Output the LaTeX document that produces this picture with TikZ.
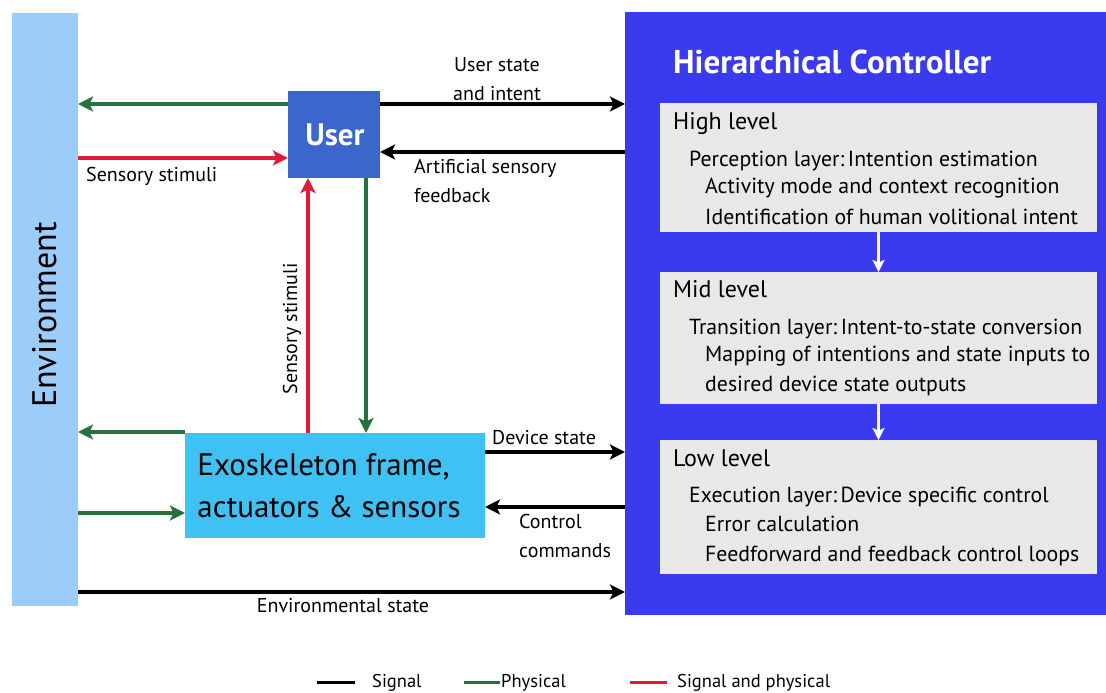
\documentclass[tikz,border=0pt]{standalone}
\usepackage{fontspec}
\setmainfont{PT Sans}
\usetikzlibrary{arrows.meta}
\definecolor{envblue}{RGB}{155,204,250}
\definecolor{userblue}{RGB}{59,102,204}
\definecolor{exocyan}{RGB}{64,193,244}
\definecolor{ctrlblue}{RGB}{58,58,240}
\definecolor{levelgray}{RGB}{232,232,232}
\definecolor{physgreen}{RGB}{40,112,62}
\definecolor{bothred}{RGB}{222,28,58}
\begin{document}
\begin{tikzpicture}[x=1pt,y=1pt,
  block/.style={inner sep=0pt, outer sep=0pt, anchor=center},
  lbl/.style={inner sep=0pt, font=\fontsize{20}{28.5}\selectfont, align=left},
  lvltitle/.style={inner sep=0pt, anchor=base west, font=\fontsize{24}{26}\selectfont},
  lvlline/.style={inner sep=0pt, anchor=base west, font=\fontsize{21.8}{24}\selectfont},
  tip/.style={-{Stealth[length=15pt,width=15pt,inset=3.5pt]}},
  sig/.style={tip, line width=3.4pt, black},
  phys/.style={tip, line width=3.4pt, physgreen},
  both/.style={tip, line width=3.4pt, bothred},
  flow/.style={line width=2.4pt, white, -{Stealth[length=12pt,width=12pt,inset=2.5pt]}},
  key/.style={line width=3pt}
]
\useasboundingbox (0,0) rectangle (1106,693);
\fill[white] (0,0) rectangle (1106,693);

% Environment bar
\node[block, fill=envblue, minimum width=66pt, minimum height=593pt] (env) at (45,383.5) {};
\node[rotate=90, inner sep=0pt, font=\fontsize{34}{36}\selectfont] (envtxt) at (45,378) {Environment};

% User
\node[block, fill=userblue, minimum width=92pt, minimum height=87pt] (user) at (334,558.5) {};
\node[inner sep=0pt, text=white, font=\fontsize{31}{33}\selectfont\bfseries] (usertxt) at (335,558) {User};

% Exoskeleton
\node[block, fill=exocyan, minimum width=300pt, minimum height=105pt] (exo) at (335,207.5) {};
\node[inner sep=0pt, align=left, font=\fontsize{31}{42}\selectfont] (exotxt) at (329,207) {Exoskeleton frame,\\actuators \& sensors};

% Hierarchical controller
\node[block, fill=ctrlblue, minimum width=481pt, minimum height=603pt] (hc) at (865.5,379.5) {};
\node[inner sep=0pt, anchor=base west, text=white, font=\fontsize{33}{36}\selectfont\bfseries] (hctxt) at (673,619) {Hierarchical Controller};

\node[block, fill=levelgray, minimum width=437pt, minimum height=129pt] (high) at (878.5,525.5) {};
\node[block, fill=levelgray, minimum width=437pt, minimum height=132pt] (mid) at (878.5,355) {};
\node[block, fill=levelgray, minimum width=437pt, minimum height=134pt] (low) at (878.5,186) {};

\node[lvltitle] (h0) at (673,563) {High level};
\node[lvlline] (h1) at (689,526) {Perception layer:\,Intention estimation};
\node[lvlline] (h2) at (705,499) {Activity mode and context recognition};
\node[lvlline] (h3) at (705,468) {Identification of human volitional intent};

\node[lvltitle] (m0) at (673,395) {Mid level};
\node[lvlline] (m1) at (689,358) {Transition layer:\,Intent-to-state conversion};
\node[lvlline] (m2) at (705,331) {Mapping of intentions and state inputs to};
\node[lvlline] (m3) at (705,301) {desired device state outputs};

\node[lvltitle] (l0) at (673,226) {Low level};
\node[lvlline] (l1) at (689,190) {Execution layer:\,Device specific control};
\node[lvlline] (l2) at (705,161) {Error calculation};
\node[lvlline] (l3) at (705,131) {Feedforward and feedback control loops};

\draw[flow] (high.south) -- (mid.north);
\draw[flow] (mid.south) -- (low.north);

% Connectors
\draw[phys] (user.west |- 0,589) -- (env.east |- 0,589);
\draw[sig] (user.east |- 0,589) -- (hc.west |- 0,589);
\draw[sig] (hc.west |- 0,541) -- (user.east |- 0,541);
\draw[both] (env.east |- 0,535) -- (user.west |- 0,535);
\draw[both] (exo.north -| 308,0) -- (user.south -| 308,0);
\draw[phys] (user.south -| 366,0) -- (exo.north -| 366,0);
\draw[phys] (exo.west |- 0,261) -- (env.east |- 0,261);
\draw[phys] (env.east |- 0,180) -- (exo.west |- 0,180);
\draw[sig] (exo.east |- 0,241) -- (hc.west |- 0,241);
\draw[sig] (hc.west |- 0,186) -- (exo.east |- 0,186);
\draw[sig] (env.east |- 0,101) -- (hc.west |- 0,101);

% Connector labels
\node[lbl, align=center] (t1) at (497,614) {User state\\and intent};
\node[lbl, anchor=west] (t2) at (414,512) {Artificial sensory\\feedback};
\node[lbl, anchor=west] (t3) at (86,517) {Sensory stimuli};
\node[lbl, rotate=90] (t4) at (292,364) {Sensory stimuli};
\node[lbl, anchor=west] (t5) at (492,255) {Device state};
\node[lbl, anchor=west] (t6) at (519,157) {Control\\commands};
\node[lbl] (t7) at (343,87) {Environmental state};

% Key
\coordinate (k1a) at (317,10); \coordinate (k1b) at (355,10);
\coordinate (k2a) at (464,10); \coordinate (k2b) at (500,10);
\coordinate (k3a) at (630,10); \coordinate (k3b) at (667,10);
\draw[key, black] (k1a) -- (k1b);
\draw[key, physgreen] (k2a) -- (k2b);
\draw[key, bothred] (k3a) -- (k3b);
\node[lbl, anchor=west, font=\fontsize{18.5}{20}\selectfont] (kt1) at (372,10) {Signal};
\node[lbl, anchor=west, font=\fontsize{18.5}{20}\selectfont] (kt2) at (501,10) {Physical};
\node[lbl, anchor=west, font=\fontsize{18.5}{20}\selectfont] (kt3) at (677,10) {Signal and physical};
\end{tikzpicture}
\end{document}
